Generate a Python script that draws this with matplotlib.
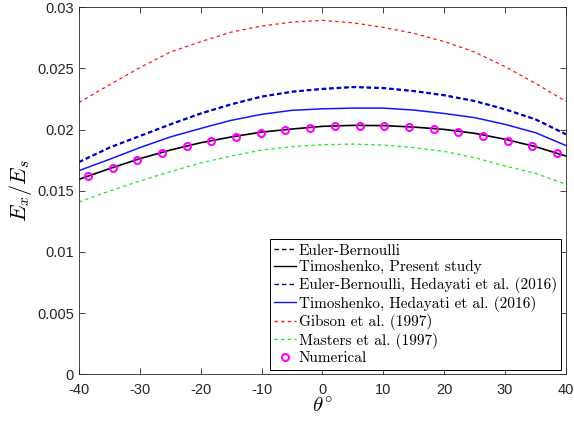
import matplotlib
matplotlib.use("Agg")
import matplotlib.pyplot as plt
from matplotlib.ticker import FormatStrFormatter

# fibre angle (deg) and normalised stiffness E_x/E_s for each model
theta = [-40, -35, -30, -25, -20, -15, -10, -5, 0, 5, 10, 15, 20, 25, 30, 35, 40]

eb_hedayati = [0.01735, 0.01853, 0.01948, 0.02043, 0.02132, 0.02207, 0.02270, 0.02310,
               0.02333, 0.02348, 0.02340, 0.02315, 0.02281, 0.02234, 0.02166, 0.02084, 0.01962]
eb_present = eb_hedayati
timo_hedayati = [0.01665, 0.01757, 0.01853, 0.01940, 0.02010, 0.02076, 0.02125, 0.02158,
                 0.02170, 0.02176, 0.02176, 0.02160, 0.02132, 0.02098, 0.02043, 0.01975, 0.01870]
timo_present = [0.01594, 0.01681, 0.01763, 0.01833, 0.01893, 0.01940, 0.01980, 0.02005,
                0.02027, 0.02035, 0.02033, 0.02021, 0.02002, 0.01970, 0.01921, 0.01861, 0.01784]
gibson = [0.02222, 0.02366, 0.02507, 0.02634, 0.02719, 0.02797, 0.02847, 0.02879,
          0.02893, 0.02873, 0.02836, 0.02787, 0.02720, 0.02634, 0.02515, 0.02378, 0.02230]
masters = [0.01409, 0.01498, 0.01580, 0.01657, 0.01728, 0.01784, 0.01833, 0.01861,
           0.01877, 0.01882, 0.01874, 0.01853, 0.01822, 0.01771, 0.01703, 0.01643, 0.01553]

theta_num = [-38.5, -34.45, -30.4, -26.35, -22.3, -18.25, -14.2, -10.15, -6.1, -2.05,
             2.05, 6.1, 10.15, 14.2, 18.25, 22.3, 26.35, 30.4, 34.45, 38.5]
numerical = [0.01618, 0.01690, 0.01755, 0.01812, 0.01864, 0.01904, 0.01943, 0.01972, 0.01997, 0.02016,
             0.02027, 0.02033, 0.02029, 0.02021, 0.02005, 0.01984, 0.01951, 0.01910, 0.01864, 0.01806]

plt.rcParams["axes.unicode_minus"] = False
plt.rcParams["mathtext.fontset"] = "cm"
plt.rcParams["lines.scale_dashes"] = False

fig = plt.figure(figsize=(5.74, 4.25), dpi=100)
ax = fig.add_axes([0.1376, 0.1193, 0.8484, 0.8635])

# dash lengths in points (not scaled by line width)
dash = (3.2, 2.2)
fine = (2.4, 2.4)
ax.plot(theta, eb_present, color="k", ls="--", dashes=dash, lw=1.0, label="Euler-Bernoulli")
ax.plot(theta, timo_present, color="k", lw=1.2, label="Timoshenko, Present study")
ax.plot(theta, eb_hedayati, color="#0000d0", ls="--", dashes=dash, lw=1.6,
        label="Euler-Bernoulli, Hedayati et al. (2016)")
ax.plot(theta, timo_hedayati, color="#1414ff", lw=1.1, label="Timoshenko, Hedayati et al. (2016)")
ax.plot(theta, gibson, color="#ff1010", ls="--", dashes=fine, lw=0.9, label="Gibson et al. (1997)")
ax.plot(theta, masters, color="#10ee10", ls="--", dashes=fine, lw=0.9, label="Masters et al. (1997)")
ax.plot(theta_num, numerical, ls="none", marker="o", ms=5, mfc="none", mec="#ff00ff",
        mew=1.5, label="Numerical")

ax.set_xlim(-40, 40)
ax.set_ylim(0, 0.03)
ax.set_xticks(range(-40, 41, 10))
ax.set_yticks([0, 0.005, 0.01, 0.015, 0.02, 0.025, 0.03])
ax.yaxis.set_major_formatter(FormatStrFormatter("%g"))
ax.tick_params(direction="in", top=True, right=True, length=4, width=0.6,
               colors="#262626", labelsize=10.5)
ax.tick_params(axis="x", pad=6)
for lbl in ax.get_xticklabels() + ax.get_yticklabels():
    lbl.set_family("Liberation Sans")
for s in ax.spines.values():
    s.set_color("#262626")
    s.set_linewidth(0.6)

ax.set_xlabel(r"$\theta^{\circ}$", fontsize=15, labelpad=0)
ax.set_ylabel(r"$E_x/E_s$", fontsize=16, labelpad=2)

# legend entries use thin handles, like the plotted curves
leg = ax.legend(loc="lower right", prop={"family": "cmr10", "size": 11},
                handlelength=1.45, handletextpad=0.15, labelspacing=0.17,
                borderpad=0.3, borderaxespad=0.3, fancybox=False, framealpha=1,
                edgecolor="k")
leg.get_frame().set_linewidth(0.7)
for h in leg.get_lines():
    h.set_linewidth(1.0)

fig.savefig("out.png", dpi=100)
